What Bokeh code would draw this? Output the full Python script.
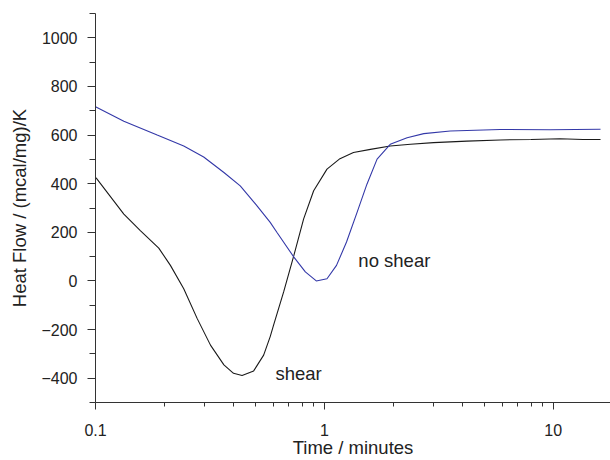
from bokeh.plotting import figure
from bokeh.models import FixedTicker, CustomJSTickFormatter, Range1d
from bokeh.embed import file_html
from bokeh.resources import INLINE
from bokeh.core.properties import value

# Data (time in minutes, heat flow in (mcal/mg)/K)
shear_t = [0.1, 0.101, 0.133, 0.157, 0.189, 0.2125, 0.243, 0.278, 0.318, 0.364, 0.401,
           0.437, 0.491, 0.543, 0.58, 0.60, 0.664, 0.736, 0.812, 0.898, 1.027, 1.17,
           1.34, 1.59, 1.94, 2.38, 3.0, 4.2, 5.87, 8.0, 10.7, 13.5, 16.1]
shear_q = [424, 422, 275, 207, 135, 64, -32, -154, -264, -345, -380,
           -389, -370, -305, -229, -182, -45, 105, 255, 371, 460, 503,
           528, 541, 555, 562, 569, 575, 580, 582, 585, 582, 582]

noshear_t = [0.1, 0.133, 0.186, 0.243, 0.297, 0.364, 0.429, 0.508, 0.58, 0.62, 0.736,
             0.826, 0.922, 1.027, 1.13, 1.25, 1.39, 1.535, 1.70, 1.94, 2.30, 2.72,
             3.55, 5.87, 9.7, 16.1]
noshear_q = [716, 657, 600, 555, 510, 446, 391, 309, 241, 200, 98,
             37, 0, 9, 64, 160, 282, 398, 501, 562, 589, 606,
             617, 623, 622, 624]

x_major = [0.1, 1, 10]
x_minor = [0.2, 0.3, 0.4, 0.5, 0.6, 0.7, 0.8, 0.9, 2, 3, 4, 5, 6, 7, 8, 9]
y_major = [-400, -200, 0, 200, 400, 600, 800, 1000]
y_minor = [-500, -300, -100, 100, 300, 500, 700, 900, 1100]

labels = ["shear", "no shear"]
label_t = [0.611, 1.408]
label_q = [-379, 83]

FONT = "Liberation Sans"
TXT = "#222222"
AX = "#333333"

p = figure(width=610, height=460, x_axis_type="log", output_backend="svg",
           toolbar_location=None, min_border_left=95, min_border_right=0,
           min_border_top=13, min_border_bottom=56)
p.x_range = Range1d(0.1, 17.8)
p.y_range = Range1d(-500, 1100)
p.outline_line_color = None
p.grid.visible = False

p.line(shear_t, shear_q, line_color="#1a1a1a", line_width=1.1)
p.line(noshear_t, noshear_q, line_color="#3338a8", line_width=1.1)

p.text(x=label_t, y=label_q, text=labels, text_font=value(FONT), text_font_size="18.5px",
       text_color=TXT, text_baseline="alphabetic", text_align="left")

xa = p.xaxis[0]
xa.ticker = FixedTicker(ticks=x_major, minor_ticks=x_minor)
xa.formatter = CustomJSTickFormatter(code="return String(Math.round(tick*1000)/1000);")
ya = p.yaxis[0]
ya.ticker = FixedTicker(ticks=y_major, minor_ticks=y_minor)
ya.formatter = CustomJSTickFormatter(code="return tick < 0 ? '\u2212' + Math.abs(tick) : String(tick);")

for ax in (xa, ya):
    ax.axis_line_color = AX
    ax.major_tick_line_color = AX
    ax.minor_tick_line_color = AX
    ax.major_tick_in = 0
    ax.minor_tick_in = 0
    ax.major_label_text_font = FONT
    ax.major_label_text_font_size = "16px"
    ax.major_label_text_color = TXT
    ax.axis_label_text_font = FONT
    ax.axis_label_text_font_size = "18.5px"
    ax.axis_label_text_font_style = "normal"
    ax.axis_label_text_color = TXT

xa.major_tick_out = 7
xa.minor_tick_out = 4
ya.major_tick_out = 8
ya.minor_tick_out = 6
xa.axis_label = "Time / minutes"
ya.axis_label = "Heat Flow / (mcal/mg)/K"
xa.major_label_standoff = 14
ya.major_label_standoff = 10
xa.axis_label_standoff = -2
ya.axis_label_standoff = 8

open("out.html", "w").write(file_html(p, INLINE))
